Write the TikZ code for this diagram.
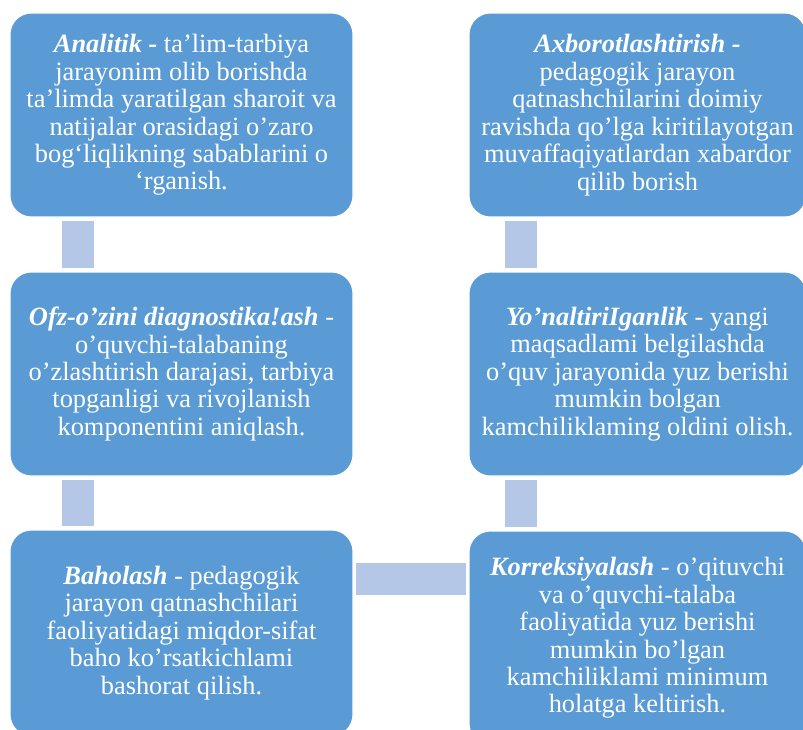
\documentclass[tikz,border=0pt]{standalone}
\usepackage{fontspec}
\setmainfont{Liberation Serif}
\definecolor{boxblue}{RGB}{91,155,213}
\definecolor{connblue}{RGB}{180,199,231}
\begin{document}
\begin{tikzpicture}[x=0.75pt,y=-0.75pt,
  card/.style={rectangle, rounded corners=16pt, fill=boxblue, draw=white, line width=0.8pt,
    text=white, align=center, inner sep=0pt,
    font=\fontsize{19.8pt}{20.6pt}\selectfont},
  conn/.style={draw=connblue, line width=24pt}]
\useasboundingbox (0,0) rectangle (803,729);
\clip (0,0) rectangle (803,729);
% left column
\node[card, minimum width=257.25pt, minimum height=153pt] (a1) at (181.5,115)
 {\textbf{\textit{Analitik -}} ta’lim-tarbiya\\ jarayonim olib borishda\\ ta’limda yaratilgan sharoit va\\ natijalar orasidagi o’zaro\\ bog‘liqlikning sabablarini o\\ ‘rganish.};
\node[card, minimum width=257.25pt, minimum height=153pt] (a2) at (181.5,374)
 {\textbf{\textit{Ofz-o’zini diagnostika!ash}} -\\ o’quvchi-talabaning\\ o’zlashtirish darajasi, tarbiya\\ topganligi va rivojlanish\\ komponentini aniqlash.};
\node[card, minimum width=257.25pt, minimum height=154.5pt] (a3) at (181.5,633)
 {\textbf{\textit{Baholash}} - pedagogik\\ jarayon qatnashchilari\\ faoliyatidagi miqdor-sifat\\ baho ko’rsatkichlami\\ bashorat qilish.};
% right column
\node[card, minimum width=252.75pt, minimum height=153pt] (b1) at (637.5,115)
 {\textbf{\textit{Axborotlashtirish -}}\\ pedagogik jarayon\\ qatnashchilarini doimiy\\ ravishda qo’lga kiritilayotgan\\ muvaffaqiyatlardan xabardor\\ qilib borish};
\node[card, minimum width=252.75pt, minimum height=153pt] (b2) at (637.5,374)
 {\textbf{\textit{Yo’naltiriIganlik}} - yangi\\ maqsadlami belgilashda\\ o’quv jarayonida yuz berishi\\ mumkin bolgan\\ kamchiliklaming oldini olish.};
\node[card, minimum width=252.75pt, minimum height=160.5pt] (b3) at (637.5,638)
 {\textbf{\textit{Korreksiyalash}} - o’qituvchi\\ va o’quvchi-talaba\\ faoliyatida yuz berishi\\ mumkin bo’lgan\\ kamchiliklami minimum\\ holatga keltirish.};
% connectors
\draw[conn, shorten <=2.25pt, shorten >=2.25pt] ([xshift=51.75pt]a1.south west) -- ([xshift=51.75pt]a2.north west);
\draw[conn, shorten <=2.25pt, shorten >=2.25pt] ([xshift=51.75pt]a2.south west) -- ([xshift=51.75pt]a3.north west);
\draw[conn, shorten <=2.25pt, shorten >=2.25pt] ([xshift=39.75pt]b1.south west) -- ([xshift=39.75pt]b2.north west);
\draw[conn, shorten <=2.25pt, shorten >=2.25pt] ([xshift=39.75pt]b2.south west) -- ([xshift=39.75pt]b3.north west);
\draw[conn, shorten <=1.5pt, shorten >=1.5pt] ([yshift=-37.5pt]a3.north east) -- ([yshift=-36.75pt]b3.north west);
\end{tikzpicture}
\end{document}
